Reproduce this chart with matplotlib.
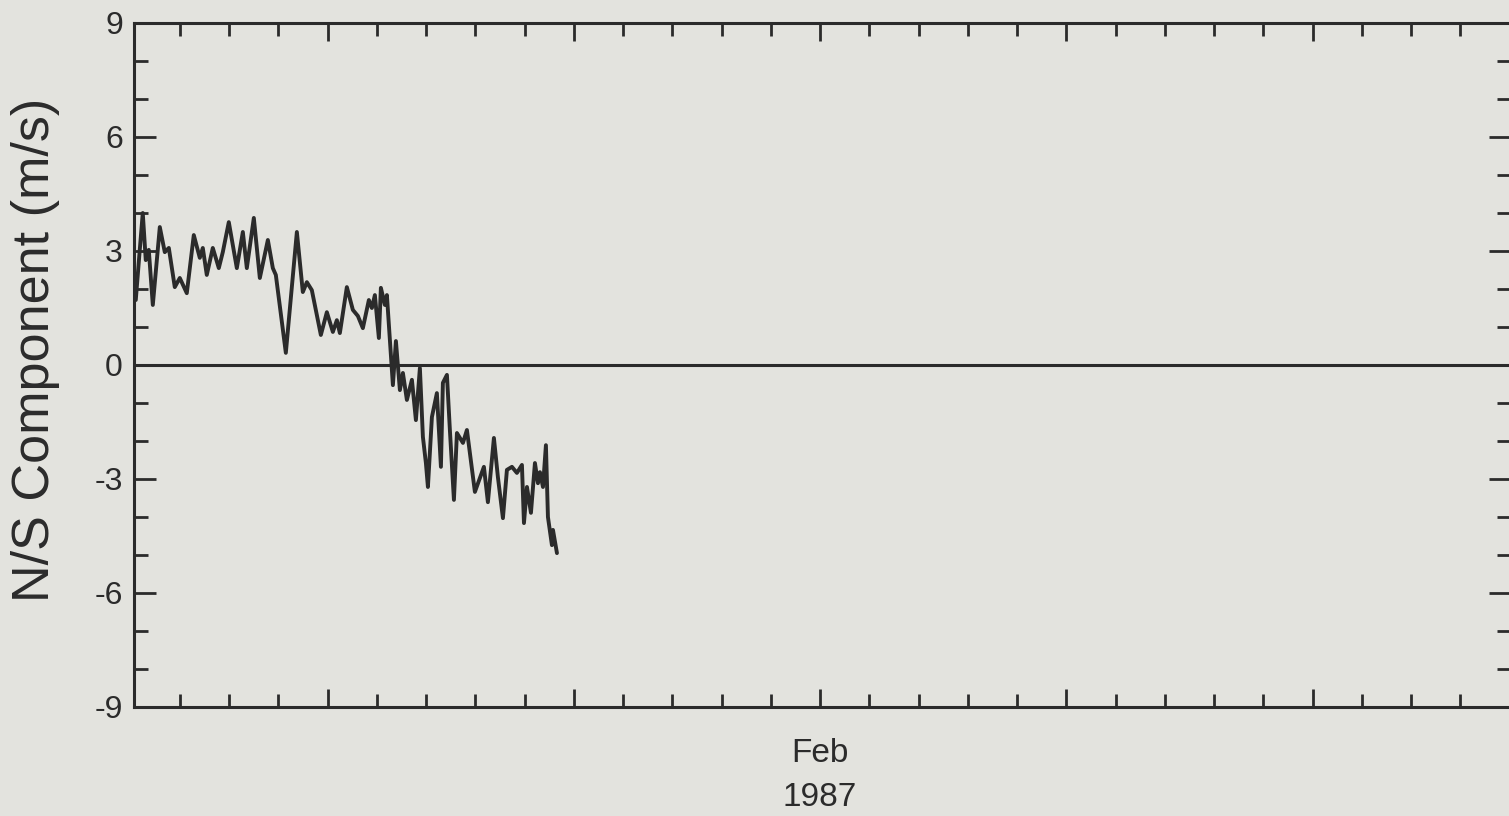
import matplotlib.pyplot as plt

# N/S wind component, days on x (0 = first small tick), m/s on y
days = [-0.894, -0.813, -0.752, -0.691, -0.630, -0.548, -0.406, -0.305, -0.223, -0.102,
        0.000, 0.142, 0.284, 0.406, 0.467, 0.548, 0.670, 0.792, 0.873, 0.995,
        1.158, 1.280, 1.361, 1.503, 1.625, 1.788, 1.889, 1.950, 2.153, 2.377,
        2.498, 2.580, 2.681, 2.864, 2.986, 3.108, 3.189, 3.250, 3.392, 3.514,
        3.616, 3.717, 3.839, 3.900, 3.961, 4.042, 4.083, 4.164, 4.205, 4.327,
        4.388, 4.469, 4.530, 4.611, 4.713, 4.794, 4.875, 4.936, 4.997, 5.038,
        5.119, 5.220, 5.302, 5.342, 5.424, 5.484, 5.566, 5.627, 5.749, 5.830,
        5.992, 6.175, 6.256, 6.378, 6.459, 6.561, 6.642, 6.744, 6.845, 6.947,
        6.988, 7.049, 7.130, 7.211, 7.272, 7.313, 7.374, 7.434, 7.475, 7.556,
        7.577, 7.658]
ns_speed = [1.71, 3.03, 4.00, 2.76, 3.03, 1.58, 3.63, 2.97, 3.08, 2.05,
            2.29, 1.89, 3.42, 2.82, 3.08, 2.37, 3.08, 2.55, 2.97, 3.76,
            2.55, 3.50, 2.55, 3.87, 2.29, 3.29, 2.55, 2.37, 0.32, 3.50,
            1.92, 2.18, 1.97, 0.79, 1.39, 0.87, 1.18, 0.84, 2.05, 1.45,
            1.29, 0.97, 1.71, 1.50, 1.84, 0.71, 2.03, 1.58, 1.84, -0.53,
            0.63, -0.66, -0.21, -0.92, -0.39, -1.45, -0.08, -1.89, -2.58, -3.21,
            -1.37, -0.74, -2.68, -0.47, -0.26, -1.71, -3.55, -1.79, -2.05, -1.71,
            -3.34, -2.68, -3.61, -1.92, -2.95, -4.03, -2.76, -2.68, -2.84, -2.63,
            -4.16, -3.21, -3.89, -2.58, -3.11, -2.82, -3.21, -2.11, -4.00, -4.74,
            -4.34, -4.95]

major_days = [3, 8, 13, 18, 23]
major_labels = ['', '', 'Feb\n1987', '', '']
minor_days = [d for d in range(0, 27) if d not in major_days]
y_ticks = [-9, -6, -3, 0, 3, 6, 9]
y_minor = [v for v in range(-8, 9) if v % 3 != 0]

ink = '#2b2b2b'
bg = '#e3e3de'

W, H = 1509, 816
fig = plt.figure(figsize=(W / 100, H / 100), dpi=100, facecolor=bg)
ax = fig.add_axes([134 / W, 1 - 707 / H, (1511 - 134) / W, (707 - 23) / H])
ax.set_facecolor(bg)

ax.plot(days, ns_speed, color=ink, lw=2.8, solid_joinstyle='round',
        solid_capstyle='round')
ax.axhline(0, color=ink, lw=2.2)

ax.set_xlim(-0.93, 27.03)
ax.set_ylim(-9, 9)

ax.set_xticks(major_days)
ax.set_xticklabels(major_labels)
ax.set_xticks(minor_days, minor=True)
ax.set_yticks(y_ticks)
ax.set_yticklabels([str(v) for v in y_ticks])
ax.set_yticks(y_minor, minor=True)

for s in ax.spines.values():
    s.set_linewidth(2.2)
    s.set_color(ink)

ax.tick_params(axis='x', which='both', direction='in', top=True, bottom=True,
               width=2.0, color=ink, labelsize=24, labelcolor=ink, pad=22)
ax.tick_params(axis='x', which='major', length=13)
ax.tick_params(axis='x', which='minor', length=9.5)
ax.tick_params(axis='y', which='both', direction='in', left=True, right=True,
               width=2.0, color=ink, labelsize=23, labelcolor=ink, pad=8)
ax.tick_params(axis='y', which='major', length=16)
ax.tick_params(axis='y', which='minor', length=10)

for lab in ax.get_xticklabels() + ax.get_yticklabels():
    lab.set_fontfamily('Liberation Sans')
for lab in ax.get_xticklabels():
    lab.set_linespacing(1.55)

fig.text(36 / W, 1 - 350 / H, 'N/S Component (m/s)', rotation=90,
         ha='center', va='center', fontsize=37.5, color=ink,
         family='Liberation Sans')

fig.savefig('out.png', dpi=100, facecolor=bg)
